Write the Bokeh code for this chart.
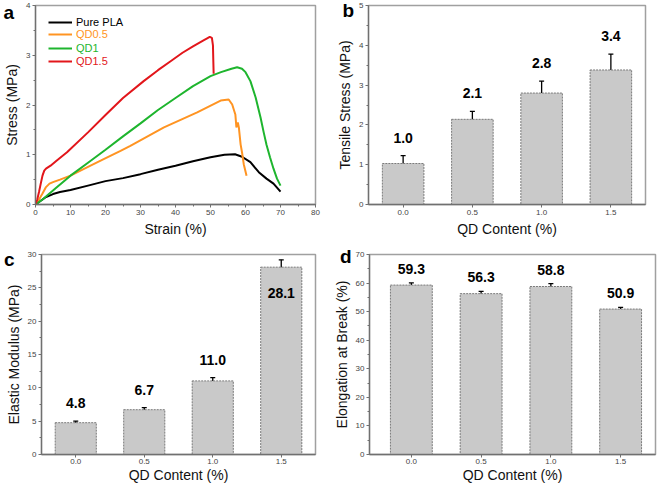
from bokeh.plotting import figure
from bokeh.layouts import column, row
from bokeh.models import (Range1d, FixedTicker, PrintfTickFormatter, Legend, LinearAxis,
                          LegendItem, Whisker, ColumnDataSource)
from bokeh.embed import file_html
from bokeh.resources import INLINE
from bokeh.core.properties import value

# ---------------- data ----------------
pla_strain = [0, 1, 2, 3, 4, 5, 7, 10, 15, 20, 25, 30, 35, 40, 45, 50, 54, 57, 59, 61.4, 63.8, 66, 68, 70]
pla_stress = [0, 0.05, 0.10, 0.15, 0.18, 0.21, 0.25, 0.29, 0.38, 0.47, 0.53, 0.61, 0.70, 0.78, 0.87, 0.95, 1.00, 1.01, 0.96, 0.85, 0.65, 0.52, 0.42, 0.26]

qd05_strain = [0, 1, 2, 3, 4, 5, 7, 10, 14, 18.6, 24.3, 27.1, 36.7, 46.2, 52.9, 55.2, 56.2, 57.1, 57.4, 57.8, 58.1, 58.6, 59, 59.5, 60.3]
qd05_stress = [0, 0.10, 0.22, 0.35, 0.42, 0.45, 0.50, 0.58, 0.72, 0.88, 1.08, 1.18, 1.55, 1.85, 2.09, 2.11, 2.01, 1.81, 1.55, 1.65, 1.55, 1.21, 1.05, 0.81, 0.58]

qd1_strain = [0, 2, 4, 6, 10, 15, 20, 25, 30, 35, 40, 45, 50, 53, 56, 57.6, 59, 60, 61.4, 62.9, 64.3, 65.2, 66, 67, 68, 69, 70]
qd1_stress = [0, 0.10, 0.22, 0.34, 0.58, 0.84, 1.10, 1.37, 1.63, 1.90, 2.14, 2.38, 2.58, 2.66, 2.73, 2.76, 2.73, 2.66, 2.48, 2.15, 1.75, 1.45, 1.20, 0.95, 0.72, 0.52, 0.38]

qd15_strain = [0, 0.5, 1, 1.5, 2, 2.5, 3, 4.3, 6, 9, 15, 20, 25, 30.9, 35, 38.6, 42, 45, 48, 49.8, 50.4, 50.7, 50.8, 50.9]
qd15_stress = [0, 0.10, 0.25, 0.42, 0.58, 0.68, 0.72, 0.78, 0.88, 1.05, 1.45, 1.80, 2.14, 2.48, 2.70, 2.88, 3.05, 3.18, 3.30, 3.37, 3.35, 3.20, 2.90, 2.63]

series_names = ["Pure PLA", "QD0.5", "QD1", "QD1.5"]
series_colors = ["#000000", "#FF9422", "#1EB52E", "#E2161B"]

qd_content = [0.0, 0.5, 1.0, 1.5]
tensile_stress = [1.03, 2.14, 2.80, 3.38]
tensile_err = [0.20, 0.20, 0.30, 0.40]
modulus = [4.77, 6.72, 11.04, 28.1]
modulus_err = [0.25, 0.30, 0.50, 1.10]
elongation = [59.3, 56.3, 58.8, 50.9]
elongation_err = [0.75, 0.80, 1.00, 0.60]

FONT = "Liberation Sans"


def style(p, xlabel, ylabel, tight=False):
    p.xgrid.visible = False
    p.ygrid.visible = False
    p.outline_line_color = "#a0a0a0"
    p.outline_line_width = 1.5
    p.background_fill_color = "white"
    p.border_fill_color = "white"
    for ax in (p.xaxis[0], p.yaxis[0]):
        ax.axis_line_color = "#707070"
        ax.axis_line_width = 1.3
        ax.major_tick_line_color = "#707070"
        ax.minor_tick_line_color = "#707070"
        ax.major_tick_out = 3
        ax.major_tick_in = 0
        ax.minor_tick_out = 2
        ax.minor_tick_in = 0
        ax.major_label_text_font = FONT
        ax.major_label_text_font_size = "8px"
        ax.major_label_text_color = "#444444"
        ax.major_label_standoff = 2
        ax.axis_label_text_font = FONT
        ax.axis_label_text_font_size = "14px"
        ax.axis_label_text_font_style = "normal"
        ax.axis_label_text_color = "#111111"
        ax.axis_label_standoff = 3
    if tight:
        p.xaxis[0].major_label_standoff = 1
        p.xaxis[0].axis_label_standoff = 0
    p.xaxis[0].axis_label = xlabel
    p.yaxis[0].axis_label = ylabel


def title_letter(p, txt, offset, standoff):
    p.title.text = txt
    p.title.align = "left"
    p.title.offset = offset
    p.title.standoff = standoff
    p.title.vertical_align = "bottom"
    p.title.text_font = FONT
    p.title.text_font_size = "19px"
    p.title.text_font_style = "bold"
    p.title.text_color = "black"


def axis_letter(p, txt, yval, standoff):
    ax = LinearAxis(ticker=FixedTicker(ticks=[yval], minor_ticks=[]),
                    major_label_overrides={yval: txt},
                    axis_line_color=None, major_tick_line_color=None, minor_tick_line_color=None,
                    major_tick_out=0, major_tick_in=0, minor_tick_out=0, minor_tick_in=0,
                    major_label_standoff=standoff, major_label_text_font=FONT,
                    major_label_text_font_size="19px", major_label_text_font_style="bold",
                    major_label_text_color="black")
    p.add_layout(ax, "left")


# ---------------- panel a ----------------
pa = figure(width=330, height=245, output_backend="svg", toolbar_location=None,
            x_range=Range1d(0, 80), y_range=Range1d(0, 4),
            min_border_left=35, min_border_right=15, min_border_top=4, min_border_bottom=41)
style(pa, "Strain (%)", "Stress (MPa)")
pa.xaxis[0].ticker = FixedTicker(ticks=list(range(0, 81, 10)), minor_ticks=list(range(0, 81, 5)))
pa.yaxis[0].ticker = FixedTicker(ticks=[0, 1, 2, 3, 4], minor_ticks=[0, 0.5, 1, 1.5, 2, 2.5, 3, 3.5, 4])

curves = [(pla_strain, pla_stress), (qd05_strain, qd05_stress), (qd1_strain, qd1_stress), (qd15_strain, qd15_stress)]
renderers = []
for (xs, ys), c in zip(curves, series_colors):
    renderers.append(pa.line(xs, ys, line_color=c, line_width=2))

leg_y = [176, 164, 150, 137]
for name, c, r, ly in zip(series_names, series_colors, renderers, leg_y):
    lg = Legend(items=[LegendItem(label=name, renderers=[r])], location=(13, ly),
                glyph_width=24, glyph_height=12, label_height=12, label_standoff=4,
                padding=0, margin=0, spacing=0, border_line_color=None,
                background_fill_alpha=0, label_text_font=FONT, label_text_font_size="11px",
                label_text_color=c)
    pa.add_layout(lg)
title_letter(pa, "a", -32, -34)


# ---------------- bar panels ----------------
def bar_panel(vals, errs, ylabel, ymax, ystep, x_start, w, h, bl, br, bt, bb, gap, tight):
    p = figure(width=w, height=h, output_backend="svg", toolbar_location=None,
               x_range=Range1d(x_start, 1.75), y_range=Range1d(0, ymax),
               min_border_left=bl, min_border_right=br, min_border_top=bt, min_border_bottom=bb)
    style(p, "QD Content (%)", ylabel, tight)
    upper = [v + e for v, e in zip(vals, errs)]
    lower = [v - e for v, e in zip(vals, errs)]
    above = [u < 0.9 * ymax for u in upper]
    src = ColumnDataSource(dict(
        x=qd_content, top=vals, upper=upper, lower=lower,
        label=[f"{v:.1f}" for v in vals],
        ly=[u if a else l for u, l, a in zip(upper, lower, above)],
        yoff=[-gap if a else gap for a in above],
    ))
    p.vbar(x="x", top="top", width=0.3, source=src, fill_color="#c9c9c9",
           line_color="#7a7a7a", line_dash="2 1", line_width=1)
    wk = Whisker(base="x", upper="upper", lower="lower", source=src,
                 line_color="black", line_width=1.3)
    wk.upper_head.size = 5
    wk.lower_head.size = 5
    wk.upper_head.line_width = 1.3
    wk.lower_head.line_width = 1.3
    p.add_layout(wk)
    p.text(x="x", y="ly", text="label", y_offset="yoff", source=src,
           text_font=value(FONT), text_font_style="bold", text_font_size="14px",
           text_align="center", text_baseline="middle", text_color="black")
    p.xaxis[0].ticker = FixedTicker(ticks=qd_content, minor_ticks=[])
    p.xaxis[0].formatter = PrintfTickFormatter(format="%.1f")
    major = [i * ystep for i in range(int(round(ymax / ystep)) + 1)]
    minor = [i * ystep / 2 for i in range(int(round(2 * ymax / ystep)) + 1)]
    p.yaxis[0].ticker = FixedTicker(ticks=major, minor_ticks=minor)
    return p


pb = bar_panel(tensile_stress, tensile_err, "Tensile Stress (MPa)", 5, 1, -0.25,
               331, 245, 38, 16, 5, 41, 18, False)
title_letter(pb, "b", -26, -30)
pc = bar_panel(modulus, modulus_err, "Elastic Modulus (MPa)", 30, 5, -0.25,
               330, 244, 35, 15, 9, 35, 18, True)
axis_letter(pc, "c", 29.25, -12)
pd_ = bar_panel(elongation, elongation_err, "Elongation at Break (%)", 70, 10, -0.3,
                331, 244, 39, 6, 9, 35, 14, True)
axis_letter(pd_, "d", 69.6, -21)

layout = column(row(pa, pb), row(pc, pd_))
open("out.html", "w").write(file_html(layout, INLINE))
